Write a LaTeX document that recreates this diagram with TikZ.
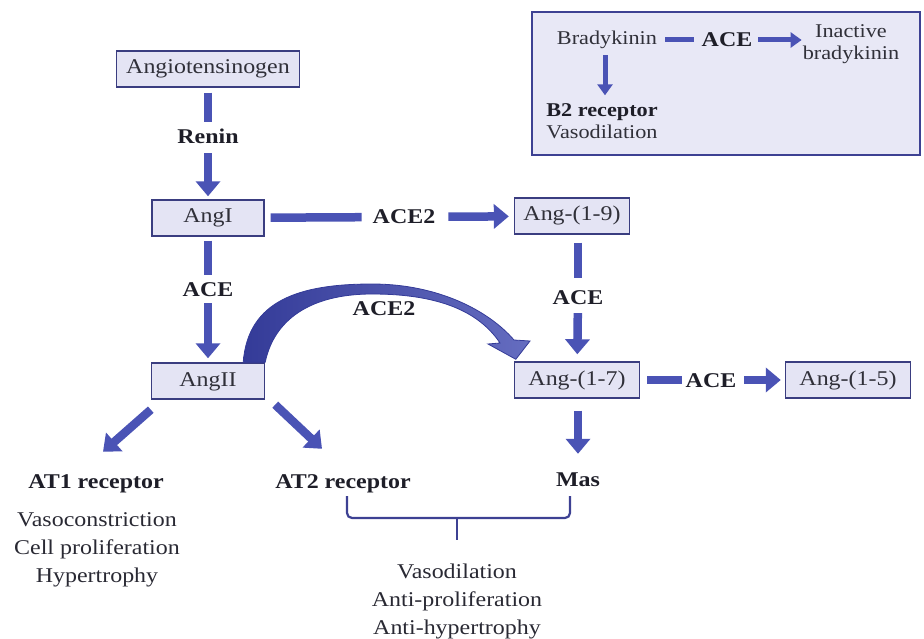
\documentclass[tikz,border=0pt]{standalone}
\usepackage{fontspec}
\setmainfont[FakeStretch=1.14]{Liberation Serif}
\usetikzlibrary{arrows.meta,calc}
\definecolor{boxfill}{HTML}{E4E4F4}
\definecolor{boxline}{HTML}{3A3D80}
\definecolor{arrblue}{HTML}{4A53B5}
\definecolor{arrdark}{HTML}{343B98}
\definecolor{txt}{HTML}{1E1E28}
\definecolor{insetfill}{HTML}{E8E8F6}
\definecolor{insetline}{HTML}{3D4193}
\begin{document}
\begin{tikzpicture}[x=1pt,y=-1pt,
  box/.style={draw=boxline,fill=boxfill,line width=1.4pt,minimum height=36pt,inner sep=0pt,
    text height=14pt,text depth=4pt,font=\fontsize{21}{24}\selectfont,text=txt!92},
  lbl/.style={inner sep=0pt,text height=14pt,text depth=0pt,font=\fontsize{21}{24}\selectfont\bfseries,text=txt},
  txtn/.style={inner sep=0pt,font=\fontsize{21}{28}\selectfont,text=txt!95,align=center},
  itxt/.style={inner sep=0pt,font=\fontsize{19.5}{22}\selectfont,text=txt!92,align=center},
  ilbl/.style={inner sep=0pt,text height=13pt,text depth=0pt,font=\fontsize{19.5}{22}\selectfont\bfseries,text=txt},
  bar/.style={draw=arrblue,line width=8.5pt},
  arr/.style={draw=arrblue,line width=8.5pt,-{Triangle[width=24pt,length=15pt]}},
  ibar/.style={draw=arrblue,line width=5pt},
  iarr/.style={draw=arrblue,line width=5pt,-{Triangle[width=15pt,length=11pt]}},
  bracestyle/.style={draw=insetline,line width=2.2pt,rounded corners=5pt},
]
\useasboundingbox (0,0) rectangle (924,639);

% inset
\node[draw=insetline,fill=insetfill,line width=1.8pt,minimum width=388pt,minimum height=143pt,inner sep=0pt] (inset) at (726,83.5) {};
\node[itxt] (brady) at (607,40) {Bradykinin};
\node[ilbl,font=\fontsize{21}{24}\selectfont\bfseries] (aceB) at (727,40) {ACE};
\node[itxt] (inact) at (851,44) {Inactive\\bradykinin};
\node[ilbl] (b2) at (602,110) {B2 receptor};
\node[itxt] (vaso) at (602,132) {Vasodilation};
\draw[ibar,shorten <=8pt,shorten >=8pt] (brady) -- (aceB);
\draw[iarr,shorten <=6pt,shorten >=1pt] (aceB) -- (aceB -| inact.west);
\draw[iarr,shorten <=6pt,shorten >=8pt] ([xshift=-2pt]brady.south) -- ([xshift=-2pt]brady.south |- b2.north);

% main boxes and labels
\node[box,minimum width=183pt] (ag) at (208,69) {Angiotensinogen};
\node[lbl] (renin) at (208,137) {Renin};
\node[box,minimum width=112pt] (a1) at (208,218) {AngI};
\node[lbl] (ace1) at (208,290) {ACE};
\node[box,minimum width=113pt] (a2) at (208,381) {AngII};
\node[lbl] (ace2h) at (404,217) {ACE2};
\node[box,minimum width=115pt] (a19) at (572,216) {Ang-(1-9)};
\node[lbl] (aceR) at (578,297) {ACE};
\node[box,minimum width=125pt] (a17) at (577,380) {Ang-(1-7)};
\node[lbl] (ace3) at (711,380) {ACE};
\node[box,minimum width=125pt] (a15) at (848,380) {Ang-(1-5)};
\node[lbl] (ace2c) at (384,309) {ACE2};
\node[lbl] (at1) at (96,481) {AT1 receptor};
\node[lbl] (at2) at (343,481) {AT2 receptor};
\node[lbl] (mas) at (578,479) {Mas};
\node[txtn] (at1fx) at (97,550) {Vasoconstriction\\Cell proliferation\\Hypertrophy};
\node[txtn] (protfx) at (457,601) {Vasodilation\\Anti-proliferation\\Anti-hypertrophy};

% connectors
\draw[bar,shorten <=5pt,shorten >=8pt] (ag) -- (renin);
\draw[arr,shorten <=9pt,shorten >=3pt] (renin) -- (a1);
\draw[bar,shorten <=4pt,shorten >=8pt] (a1) -- (ace1);
\draw[arr,shorten <=6pt,shorten >=4pt] (ace1) -- (a2);
\draw[bar,shorten <=6pt,shorten >=11pt] (a1) -- (ace2h);
\draw[arr,shorten <=13pt,shorten >=5pt] (ace2h) -- (a19);
\draw[bar,shorten <=8pt,shorten >=12pt] (a19.south -| aceR) -- (aceR);
\draw[arr,shorten <=9pt,shorten >=7pt] (aceR) -- (a17);
\draw[bar,shorten <=7pt,shorten >=4pt] (a17) -- (ace3);
\draw[arr,shorten <=8pt,shorten >=4pt] (ace3) -- (a15);
\draw[arr,shorten <=12pt,shorten >=18pt] (a17.south -| mas) -- (mas);
\draw[arr] ($(a2.south west)+(0,10)$) -- ($(at1.north)+(7,-22)$);
\draw[arr] ($(a2.south east)+(10,5)$) -- ($(at2.north)+(-21,-25)$);

% curved ACE2 arrow
\shadedraw[left color=arrdark,right color=arrblue!85!white,draw=arrdark,line width=0.8pt]
  ($(a2.north east)+(-22,0)$) .. controls (248,300) and (300,284) .. (372,284)
  .. controls (440,284) and (490,312) .. (514,340) -- (530,341)
  -- ($(a17.north west)+(2,-2)$) -- (488,344) -- (500,343)
  .. controls (476,307) and (430,294) .. (372,294)
  .. controls (310,294) and (274,320) .. (a2.north east) -- cycle;

% brace
\draw[bracestyle] (347,496) -- (347,518) -- (570,518) -- (570,496);
\draw[draw=insetline,line width=2.2pt] (457,518) -- (457,540);
\end{tikzpicture}
\end{document}
